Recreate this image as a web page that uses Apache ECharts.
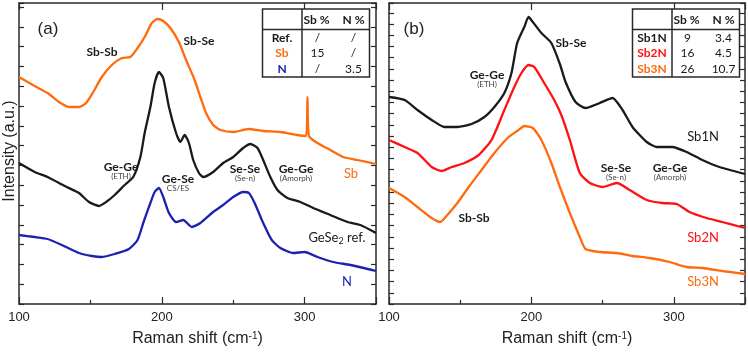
<!DOCTYPE html>
<html>
<head>
<meta charset="utf-8">
<style>
  html, body { margin: 0; padding: 0; background: #fff; }
  #chart { width: 748px; height: 352px; }
</style>
<script src="https://cdn.jsdelivr.net/npm/echarts@6/dist/echarts.min.js"></script>
</head>
<body>
<div id="chart"></div>
<script>
// (a) 光谱数据 [Raman shift, intensity a.u.]
const specSb = [[100, 22.7], [111, 21.8], [120, 21.1], [128, 20.2], [135, 19.7], [142, 19.7], [147, 20.1], [152, 21.2], [158, 22.7], [165, 23.9], [172, 24.6], [178, 24.7], [183, 25.6], [188, 26.7], [193, 28.1], [197, 28.5], [201, 28.3], [206, 27.6], [212, 26.2], [217, 24.4], [223, 22.4], [227, 20.7], [231, 19.1], [236, 17.9], [241, 17.4], [250, 17.2], [261, 17.5], [271, 17.3], [283, 17.2], [295, 16.9], [301, 16.8], [302, 20.7], [303, 16.8], [309, 16.1], [318, 15.4], [327, 14.7], [337, 14.4], [350, 14.0]]
const specRef = [[100, 14.1], [111, 13.2], [120, 12.7], [132, 11.8], [142, 11.1], [149, 10.2], [156, 9.8], [161, 10.2], [167, 10.9], [174, 11.9], [180, 12.7], [185, 14.7], [188, 17.1], [192, 19.7], [195, 22.1], [198, 23.2], [201, 22.6], [205, 19.7], [210, 17.1], [213, 16.2], [216, 16.9], [219, 16.1], [222, 14.4], [226, 13.1], [229, 12.7], [236, 13.2], [243, 14.1], [250, 14.7], [257, 15.6], [262, 16.0], [267, 15.6], [271, 14.4], [276, 12.7], [281, 11.4], [288, 10.6], [297, 10.2], [306, 9.6], [318, 8.9], [330, 8.2], [339, 7.9], [350, 7.1]]
const specN = [[100, 6.9], [111, 6.7], [120, 6.5], [130, 5.9], [142, 5.1], [151, 4.8], [158, 4.7], [167, 5.0], [177, 5.5], [183, 6.4], [187, 8.1], [192, 10.1], [195, 11.2], [198, 11.6], [201, 10.7], [205, 9.1], [210, 8.2], [215, 8.4], [221, 7.7], [227, 8.1], [236, 9.2], [243, 9.9], [250, 10.7], [257, 11.2], [261, 11.1], [265, 10.1], [271, 8.1], [277, 6.4], [283, 5.6], [292, 5.1], [300, 5.2], [309, 4.7], [320, 4.2], [332, 3.9], [350, 3.3]]

// (b) 光谱数据
const specSb1N = [[100, 20.7], [111, 20.4], [120, 19.4], [130, 18.4], [139, 17.7], [148, 17.7], [158, 18.0], [167, 18.7], [174, 19.7], [181, 21.1], [186, 23.1], [190, 26.1], [195, 27.7], [198, 28.7], [201, 28.2], [207, 27.1], [214, 26.1], [220, 24.0], [224, 22.2], [231, 20.2], [238, 19.6], [248, 20.1], [257, 20.6], [264, 19.4], [271, 17.7], [281, 16.2], [288, 15.7], [299, 15.7], [309, 15.2], [320, 14.4], [332, 13.7], [350, 13.0]]
const specSb2N = [[100, 16.4], [111, 15.7], [120, 15.1], [130, 13.7], [137, 13.3], [144, 13.7], [153, 14.1], [163, 14.9], [172, 16.4], [181, 19.4], [188, 21.7], [193, 23.1], [198, 23.9], [202, 23.7], [209, 22.1], [216, 20.4], [221, 18.9], [227, 16.4], [234, 13.1], [241, 12.1], [250, 11.7], [260, 12.1], [269, 11.4], [281, 10.4], [292, 10.1], [302, 10.0], [311, 9.2], [323, 8.6], [334, 8.2], [350, 7.6]]
const specSb3N = [[100, 11.6], [111, 10.7], [120, 9.7], [130, 8.6], [136, 8.2], [141, 8.9], [148, 10.1], [156, 11.7], [165, 13.4], [174, 15.1], [184, 16.7], [191, 17.4], [195, 17.8], [201, 17.6], [207, 16.4], [214, 14.1], [220, 11.7], [227, 9.1], [234, 6.7], [238, 5.5], [248, 5.2], [260, 5.1], [271, 4.8], [283, 4.6], [297, 4.2], [309, 3.7], [320, 3.6], [334, 3.3], [350, 3.0]]

// 表格内容
const tableHead = ['Sb %', 'N %']
const tableA = [['Ref.', '/', '/'], ['Sb', '15', '/'], ['N', '/', '3.5']]
const tableB = [['Sb1N', '9', '3.4'], ['Sb2N', '16', '4.5'], ['Sb3N', '26', '10.7']]

const ORANGE = '#ff6a0d'
const BLUE = '#1b22b0'
const RED = '#ff1111'
const INK = '#1a1a1a'
const FRAME = '#2a2a2a'

const chart = echarts.init(document.getElementById('chart'), null, { renderer: 'canvas' })

function xAxes(gridIndex) {
  return [{
    gridIndex,
    type: 'value',
    min: 100,
    max: 350,
    interval: 100,
    axisLine: { show: true, onZero: false, lineStyle: { color: FRAME, width: 1.5 } },
    axisTick: { show: true, inside: true, length: 7, lineStyle: { color: FRAME, width: 1.2 } },
    minorTick: { show: true, splitNumber: 2, length: 4, lineStyle: { color: FRAME, width: 1.2 } },
    splitLine: { show: false },
    axisLabel: { fontFamily: 'Liberation Sans', fontSize: 13, color: '#222', margin: 7, showMaxLabel: false },
    name: '{n|Raman shift (cm}{s|-1}{n|)}',
    nameLocation: 'middle',
    nameGap: 27,
    nameTextStyle: {
      rich: {
        n: { fontFamily: 'Liberation Sans', fontSize: 16, color: '#222' },
        s: { fontFamily: 'Liberation Sans', fontSize: 10, color: '#222', verticalAlign: 'top' }
      }
    }
  }, {
    gridIndex,
    type: 'value',
    position: 'top',
    min: 100,
    max: 350,
    interval: 100,
    axisLine: { show: true, onZero: false, lineStyle: { color: FRAME, width: 1.5 } },
    axisTick: { show: true, inside: true, length: 7, lineStyle: { color: FRAME, width: 1.2 } },
    splitLine: { show: false },
    axisLabel: { show: false }
  }]
}

function yAxes(gridIndex, step) {
  return ['left', 'right'].map(pos => ({
    gridIndex,
    type: 'value',
    position: pos,
    min: 0,
    max: 30.1,
    interval: step,
    axisLine: { show: true, onZero: false, lineStyle: { color: FRAME, width: 1.5 } },
    axisTick: { show: true, inside: true, length: 5, lineStyle: { color: FRAME, width: 1.2 } },
    splitLine: { show: false },
    axisLabel: { show: false }
  }))
}

function line(name, data, color, xi, yi) {
  return {
    name,
    type: 'line',
    xAxisIndex: xi,
    yAxisIndex: yi,
    data,
    smooth: 0.2,
    showSymbol: false,
    symbol: 'none',
    lineStyle: { color, width: 2.3 },
    itemStyle: { color },
    z: 3
  }
}

function txt(x, y, text, font, fill, extra) {
  return Object.assign({
    type: 'text',
    x,
    y,
    z: 10,
    style: { text, font, fill: fill || INK, align: 'center', verticalAlign: 'middle' }
  }, extra || {})
}

// 峰位标注（粗体 + 小字说明）
function peak(x, y, title, sub) {
  const arr = [txt(x, y, title, 'bold 12px Lato', INK)]
  if (sub) arr.push(txt(x, y + 9, sub, '8px Lato', '#444'))
  return arr
}

// 右上角表格
function table(left, rows, colors) {
  const top = 9
  const w = 107
  const h = 68
  const els = [
    { type: 'rect', shape: { x: left, y: top, width: w, height: h }, style: { fill: '#fff', stroke: FRAME, lineWidth: 1.5 }, z: 8 },
    { type: 'line', shape: { x1: left + 39.5, y1: top, x2: left + 39.5, y2: top + h }, style: { stroke: FRAME, lineWidth: 1.5 }, z: 9 },
    { type: 'line', shape: { x1: left, y1: 29.5, x2: left + w, y2: 29.5 }, style: { stroke: FRAME, lineWidth: 1.5 }, z: 9 },
    txt(left + 54, 20, tableHead[0], 'bold 12px Lato', INK),
    txt(left + 91, 20, tableHead[1], 'bold 12px Lato', INK)
  ]
  const rowY = [38.5, 53.5, 69]
  rows.forEach((r, i) => {
    els.push(txt(left + 19.5, rowY[i], r[0], 'bold 12px Lato', colors[i]))
    els.push(txt(left + 55, rowY[i], r[1], '12px Lato', INK))
    els.push(txt(left + 91, rowY[i], r[2], '12px Lato', INK))
  })
  return els
}

const graphic = [].concat(
  // y 轴标题
  [txt(10, 151, 'Intensity (a.u.)', '16px Liberation Sans', '#222', { rotation: Math.PI / 2 })],
  // 面板 (a)
  [txt(48, 29, '(a)', '17px Liberation Sans', '#222')],
  peak(102, 52, 'Sb-Sb'),
  peak(199, 41, 'Sb-Se'),
  peak(121, 167, 'Ge-Ge', '(ETH)'),
  peak(178, 179, 'Ge-Se', 'CS/ES'),
  peak(245, 169, 'Se-Se', '(Se-n)'),
  peak(296, 169, 'Ge-Ge', '(Amorph)'),
  [
    txt(351, 174, 'Sb', '13px Lato', ORANGE),
    {
      type: 'text', x: 337, y: 238, z: 10,
      style: {
        text: '{a|GeSe}{s|2}{a| ref.}',
        align: 'center',
        verticalAlign: 'middle',
        rich: {
          a: { font: '13px Lato', fill: INK },
          s: { font: '9px Lato', fill: INK, verticalAlign: 'bottom', padding: [6, 0, 0, 0] }
        }
      }
    },
    txt(347, 282, 'N', '13px Lato', BLUE)
  ],
  table(262.5, tableA, [INK, ORANGE, BLUE]),
  // 面板 (b)
  [txt(414, 29, '(b)', '17px Liberation Sans', '#222')],
  peak(487, 75, 'Ge-Ge', '(ETH)'),
  peak(571, 43, 'Sb-Se'),
  peak(616, 168, 'Se-Se', '(Se-n)'),
  peak(670, 168, 'Ge-Ge', '(Amorph)'),
  peak(474, 218, 'Sb-Sb'),
  [
    txt(703, 137, 'Sb1N', '13px Lato', INK),
    txt(703, 238, 'Sb2N', '13px Lato', RED),
    txt(703, 282, 'Sb3N', '13px Lato', ORANGE)
  ],
  table(632.5, tableB, [INK, RED, ORANGE])
)

const option = {
  animation: false,
  backgroundColor: '#fff',
  grid: [
    { left: 19, top: 3, width: 357, height: 301 },
    { left: 389, top: 3, width: 356, height: 301 }
  ],
  xAxis: [].concat(xAxes(0), xAxes(1)),
  yAxis: [].concat(yAxes(0, 1.98), yAxes(1, 1.12)),
  series: [
    line('Sb', specSb, ORANGE, 0, 0),
    line('GeSe2 ref.', specRef, INK, 0, 0),
    line('N', specN, BLUE, 0, 0),
    line('Sb1N', specSb1N, INK, 2, 2),
    line('Sb2N', specSb2N, RED, 2, 2),
    line('Sb3N', specSb3N, ORANGE, 2, 2)
  ],
  graphic
}

chart.setOption(option)
</script>
</body>
</html>
